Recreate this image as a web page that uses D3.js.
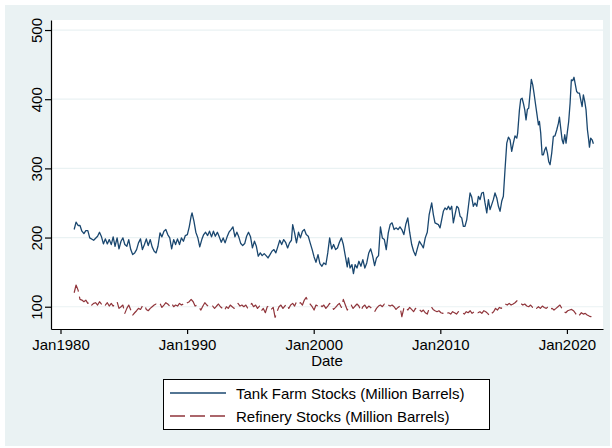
<!DOCTYPE html>
<html><head><meta charset="utf-8">
<script src="https://cdn.jsdelivr.net/npm/d3@7"></script>
<style>body{margin:0;background:#fff} text{font-family:"Liberation Sans",Arial,Helvetica,sans-serif}</style>
</head><body><svg id="c" width="612" height="448"></svg>
<script>
const xTickYears = [1980, 1990, 2000, 2010, 2020];
const yTicks = [100, 200, 300, 400, 500];
const seriesNames = ["Tank Farm Stocks (Million Barrels)", "Refinery Stocks (Million Barrels)"];
const xTitle = "Date";

const tankYears = [
1981.08,1981.23,1981.39,1981.54,1981.69,1981.85,1982.00,1982.16,1982.31,1982.62,1982.93,1983.08,1983.24,1983.39,1983.54,1983.70,1983.85,1984.01,1984.16,1984.31,1984.47,1984.62,1984.78,1984.93,
1985.08,1985.24,1985.39,1985.55,1985.70,1985.86,1986.01,1986.16,1986.32,1986.47,1986.63,1986.78,1986.93,1987.09,1987.24,1987.40,1987.55,1987.70,1987.86,1988.01,1988.17,1988.32,1988.47,1988.63,1988.78,1988.94,
1989.09,1989.24,1989.40,1989.55,1989.71,1989.86,1990.02,1990.17,1990.32,1990.39,1990.54,1990.69,1990.85,1991.00,1991.16,1991.31,1991.46,1991.62,1991.77,1991.93,1992.08,1992.23,1992.39,1992.54,1992.70,1992.85,
1993.00,1993.16,1993.31,1993.47,1993.62,1993.78,1993.93,1994.08,1994.24,1994.39,1994.55,1994.70,1994.85,1995.01,1995.16,1995.32,1995.47,1995.62,1995.78,1995.93,1996.09,1996.24,1996.39,1996.55,1996.70,1996.86,
1997.01,1997.16,1997.32,1997.47,1997.63,1997.78,1997.94,1998.09,1998.24,1998.34,1998.49,1998.64,1998.80,1998.95,1999.11,1999.26,1999.41,1999.57,1999.72,1999.88,2000.03,2000.18,2000.34,2000.49,2000.65,2000.80,2000.96,
2001.11,2001.26,2001.42,2001.57,2001.73,2001.88,2002.03,2002.19,2002.34,2002.50,2002.65,2002.74,2002.87,2003.02,2003.14,2003.27,2003.42,2003.57,2003.73,2003.88,2004.04,2004.19,2004.35,2004.50,2004.65,2004.81,2004.96,
2005.12,2005.27,2005.42,2005.58,2005.73,2005.89,2006.04,2006.19,2006.35,2006.50,2006.66,2006.81,2006.96,2007.12,2007.27,2007.43,2007.58,2007.74,2007.89,2008.04,2008.20,2008.35,2008.51,2008.66,2008.81,2008.97,2009.12,
2009.32,2009.45,2009.58,2009.85,2009.98,2010.11,2010.24,2010.37,2010.51,2010.64,2010.77,2010.90,2011.03,2011.16,2011.30,2011.43,2011.56,2011.69,2011.82,2011.95,2012.09,2012.22,2012.35,2012.48,2012.61,2012.74,2012.88,
2013.01,2013.14,2013.27,2013.40,2013.53,2013.67,2013.80,2013.93,2014.06,2014.19,2014.32,2014.46,2014.59,2014.72,2014.85,2014.98,2015.11,2015.25,2015.38,2015.51,2015.64,2015.77,2015.90,2016.04,2016.11,2016.25,2016.35,2016.46,2016.56,2016.67,2016.77,2016.88,2016.98,
2017.09,2017.19,2017.30,2017.40,2017.51,2017.62,2017.75,2017.83,2017.93,2018.04,2018.14,2018.25,2018.35,2018.46,2018.56,2018.67,2018.80,2018.93,2019.06,2019.20,2019.33,2019.41,2019.51,2019.62,2019.72,2019.83,2019.93,
2020.04,2020.14,2020.25,2020.35,2020.46,2020.56,2020.67,2020.77,2020.88,2020.99,2021.09,2021.20,2021.30,2021.41,2021.51,2021.62,2021.72,2021.78,2021.88,2021.99,2022.09
];
const tankValues = [
211.6,222.2,217.4,217.4,209.2,205.8,210.1,210.1,199.5,196.1,201.9,207.7,201.0,190.8,198.1,190.8,197.1,189.9,201.0,187.4,199.5,183.6,194.7,199.5,
189.9,187.4,197.1,182.6,175.4,177.8,182.6,192.3,198.1,182.6,189.9,198.1,188.4,197.1,186.5,180.2,177.8,187.4,206.8,201.0,209.2,211.6,204.3,199.5,183.6,197.1,
189.9,198.1,189.9,199.5,194.7,202.9,204.3,215.5,230.9,235.7,223.7,207.7,199.5,186.5,197.1,204.3,207.7,202.9,209.2,201.0,209.2,201.9,207.7,201.0,193.2,199.5,
192.3,201.0,207.7,211.6,215.5,201.0,207.7,201.0,191.3,188.4,191.3,201.9,207.7,201.0,185.0,194.7,187.4,173.0,177.8,173.9,176.8,173.9,170.5,175.4,180.2,182.6,
177.8,186.5,196.1,189.9,197.1,193.2,185.0,192.3,196.1,218.8,206.8,192.3,207.7,199.5,209.2,211.6,204.3,201.9,192.3,182.6,172.0,164.3,175.4,162.3,158.5,163.3,160.9,
177.8,199.5,183.6,189.9,182.6,185.0,193.2,199.5,189.9,173.0,157.5,170.5,156.0,160.9,147.8,160.9,156.0,165.7,158.5,168.1,156.0,163.3,177.8,183.6,173.9,159.4,170.5,
173.9,215.5,199.5,197.1,182.6,206.8,218.8,221.3,211.6,214.0,211.6,215.5,211.6,204.3,218.8,228.5,207.7,189.9,180.2,173.9,185.0,194.7,189.9,185.0,199.5,207.7,233.3,
250.0,233.2,221.1,218.7,213.9,225.9,237.9,242.8,240.4,245.2,240.4,245.2,221.1,233.2,245.2,242.8,230.8,228.4,216.3,216.3,226.0,245.2,264.4,258.6,245.2,250.0,245.2,
259.6,254.8,264.4,265.4,250.0,235.6,254.8,240.4,247.6,254.8,264.4,257.2,245.2,238.0,252.4,259.6,298.1,336.5,345.2,341.3,324.5,336.5,347.1,343.7,351.0,384.6,400.0,401.4,394.2,384.6,370.2,385.6,387.0,
408.7,428.8,420.7,408.7,394.2,379.8,363.0,367.8,351.0,319.7,319.7,326.9,330.8,322.1,310.1,305.3,322.1,346.2,347.1,355.8,365.4,374.0,358.2,341.3,335.6,348.6,336.5,
353.4,367.8,394.2,427.9,426.9,431.7,420.7,411.1,408.7,408.7,399.0,389.4,406.3,396.6,384.6,355.8,341.3,330.8,343.7,341.3,335.6
];

const refYears = [
1981.08,1981.23,1981.39,1981.54,1981.69,1981.85,1982.00,1982.16,1982.31,1982.47,1982.62,1982.77,1982.93,
1983.08,1983.24,1983.39,1983.54,1983.70,1983.85,1984.01,1984.16,1984.31,1984.47,1984.62,1984.78,1984.93,
1985.08,1985.24,1985.39,1985.55,1985.70,1985.86,1986.01,1986.16,1986.32,1986.47,1986.63,1986.78,1986.93,
1987.09,1987.24,1987.40,1987.55,1987.70,1987.86,1988.01,1988.17,1988.32,1988.47,1988.63,1988.78,1988.94,
1989.09,1989.25,1989.40,1989.55,1989.71,1989.86,1990.02,1990.17,1990.32,1990.48,1990.63,1990.79,1990.94,
1991.09,1991.25,1991.40,1991.56,1991.71,1991.86,1992.02,1992.17,1992.33,1992.48,1992.63,1992.79,1992.94,
1993.10,1993.25,1993.41,1993.56,1993.71,1993.87,1994.02,1994.18,1994.33,1994.48,1994.64,1994.79,1994.95,
1995.10,1995.25,1995.41,1995.56,1995.72,1995.87,1996.02,1996.18,1996.33,1996.49,1996.64,1996.80,1996.95,
1997.10,1997.26,1997.41,1997.57,1997.72,1997.87,1998.03,1998.18,1998.34,1998.49,1998.64,1998.80,1998.95,
1999.11,1999.26,1999.41,1999.57,1999.72,1999.88,2000.03,2000.18,2000.34,2000.49,2000.65,2000.80,2000.96,
2001.11,2001.26,2001.42,2001.57,2001.73,2001.88,2002.03,2002.19,2002.34,2002.50,2002.65,2002.80,2002.96,
2003.11,2003.27,2003.42,2003.57,2003.73,2003.88,2004.04,2004.19,2004.35,2004.50,2004.65,2004.81,2004.96,
2005.12,2005.27,2005.42,2005.58,2005.73,2005.89,2006.04,2006.19,2006.35,2006.50,2006.66,2006.81,2006.96,
2007.12,2007.27,2007.43,2007.58,2007.73,2007.89,2008.04,2008.20,2008.35,2008.51,2008.66,2008.81,2008.97,
2009.12,2009.28,2009.43,2009.58,2009.74,2009.89,2010.05,2010.20,2010.35,2010.51,2010.66,2010.82,2010.97,
2011.12,2011.28,2011.43,2011.59,2011.74,2011.90,2012.05,2012.20,2012.36,2012.51,2012.67,2012.82,2012.97,
2013.13,2013.28,2013.44,2013.59,2013.74,2013.90,2014.05,2014.21,2014.36,2014.51,2014.67,2014.82,2014.98,
2015.13,2015.29,2015.44,2015.59,2015.75,2015.90,2016.06,2016.21,2016.36,2016.52,2016.67,2016.83,2016.98,
2017.13,2017.29,2017.44,2017.60,2017.75,2017.90,2018.06,2018.21,2018.37,2018.52,2018.67,2018.83,2018.98,
2019.14,2019.29,2019.45,2019.60,2019.75,2019.91,2020.06,2020.22,2020.37,2020.52,2020.68,2020.83,2020.99,
2021.14,2021.29,2021.45,2021.60,2021.76,2021.91,2022.06
];
const refValues = [
120.2,131.4,124.0,110.6,109.6,107.2,109.6,104.8,107.2,102.4,104.8,105.8,102.4,
107.2,103.9,105.8,102.4,105.8,101.0,104.8,101.0,104.8,107.2,97.6,100.0,102.4,
90.4,97.6,102.4,95.2,88.0,91.3,94.2,97.6,96.1,101.0,102.4,96.1,94.2,
97.6,100.0,102.4,103.9,102.4,104.8,99.0,102.4,105.8,103.9,101.0,104.8,100.0,
102.4,101.0,104.8,102.4,103.9,102.4,105.8,107.2,110.6,107.2,101.0,102.4,99.0,
95.2,101.0,105.8,102.4,100.0,99.0,101.0,97.6,101.0,103.9,100.0,97.6,94.2,
100.0,97.6,102.4,100.0,97.6,102.4,104.8,101.0,102.4,100.0,102.4,97.6,101.0,
104.8,100.0,102.4,97.6,101.0,94.2,97.6,91.3,100.0,101.0,96.1,99.0,84.6,
92.8,100.0,102.4,97.6,101.0,103.9,97.6,102.4,104.8,101.0,107.2,103.9,105.8,
102.4,109.6,113.5,107.2,103.9,100.0,95.2,102.4,101.0,103.9,100.0,102.4,97.6,
101.0,104.8,101.0,96.1,99.0,102.4,104.8,99.0,110.6,102.4,95.2,99.0,102.4,
97.6,101.0,103.9,101.0,94.2,100.0,102.4,97.6,101.0,99.0,95.2,92.8,97.6,
101.0,102.4,100.0,103.9,101.0,102.4,101.0,102.4,100.0,96.1,99.0,101.0,85.5,
97.6,100.0,95.2,99.0,96.1,92.8,97.6,94.2,96.1,92.8,95.2,91.3,89.4,
97.6,100.0,96.1,94.2,92.8,94.2,91.3,90.4,92.8,90.4,91.3,89.4,92.8,
91.3,89.4,92.8,90.4,91.3,89.4,92.8,91.3,94.2,90.4,92.8,94.2,91.3,
92.8,90.4,94.2,92.8,90.4,86.5,90.4,92.8,97.6,95.2,99.0,97.6,101.0,
103.9,102.4,104.8,102.4,103.9,105.8,108.7,105.8,104.8,102.4,103.9,101.0,100.0,
102.4,99.0,101.0,97.6,100.0,97.6,101.0,99.0,97.6,100.0,96.1,97.6,95.2,
97.6,100.0,102.4,97.6,92.8,91.3,94.2,95.2,96.1,94.2,90.4,85.5,88.0,
91.3,89.4,90.4,88.0,86.5,85.5,83.1
];

const plot = {left: 51, right: 603, top: 20, bottom: 329};
const svg = d3.select("#c");

svg.append("rect").attr("x", 5).attr("y", 5).attr("width", 605).attr("height", 441).attr("fill", "#eaf2f3");
svg.append("rect").attr("x", plot.left).attr("y", plot.top).attr("width", plot.right - plot.left).attr("height", plot.bottom - plot.top).attr("fill", "#ffffff");

const x = d3.scaleLinear().domain([1979.25, 2022.85]).range([plot.left, plot.right]);
const y = d3.scaleLinear().domain([67.8, 514.5]).range([plot.bottom, plot.top]);

svg.append("g").selectAll("line").data(yTicks).join("line")
  .attr("x1", plot.left).attr("x2", plot.right)
  .attr("y1", d => y(d)).attr("y2", d => y(d))
  .attr("stroke", "#eaf2f3").attr("stroke-width", 1.2);

const line = d3.line().x(d => x(d[0])).y(d => y(d[1]));
const tank = tankYears.map((t, i) => [t, tankValues[i]]);
const ref = refYears.map((t, i) => [t, refValues[i]]);

svg.append("path").datum(tank).attr("d", line).attr("fill", "none")
  .attr("stroke", "#1a476f").attr("stroke-width", 1.3).attr("stroke-linejoin", "round");
svg.append("path").datum(ref).attr("d", line).attr("fill", "none")
  .attr("stroke", "#90353b").attr("stroke-width", 1.2).attr("stroke-linejoin", "round")
  .attr("stroke-dasharray", "15,5");

const yAxis = svg.append("g").attr("transform", `translate(${plot.left},0)`)
  .call(d3.axisLeft(y).tickValues(yTicks).tickSize(6).tickSizeOuter(0));
yAxis.select(".domain").attr("stroke", "#000").attr("stroke-width", 1.2);
yAxis.selectAll(".tick line").attr("stroke", "#000").attr("stroke-width", 1.2);
yAxis.selectAll(".tick text").attr("x", 0).attr("y", -9).attr("dy", 0)
  .attr("text-anchor", "middle").attr("transform", "rotate(-90)")
  .attr("font-size", 15).attr("fill", "#000").style("font-family", "'Liberation Sans', Arial, sans-serif");

const xAxis = svg.append("g").attr("transform", `translate(0,${plot.bottom})`)
  .call(d3.axisBottom(x).tickValues(xTickYears).tickFormat(d => "Jan" + d).tickSize(5).tickSizeOuter(0));
xAxis.select(".domain").attr("stroke", "#000").attr("stroke-width", 1.2);
xAxis.selectAll(".tick line").attr("stroke", "#000").attr("stroke-width", 1.2);
xAxis.selectAll(".tick text").attr("y", 21).attr("dy", 0)
  .attr("font-size", 15).attr("fill", "#000").style("font-family", "'Liberation Sans', Arial, sans-serif");

svg.append("text").attr("x", (plot.left + plot.right) / 2).attr("y", 366)
  .attr("text-anchor", "middle").attr("font-size", 15).attr("fill", "#000").text(xTitle);

const lg = svg.append("g");
lg.append("rect").attr("x", 163.5).attr("y", 379.5).attr("width", 326).attr("height", 50)
  .attr("fill", "#fff").attr("stroke", "#000").attr("stroke-width", 1);
const rows = [
  {name: seriesNames[0], color: "#1a476f", dash: null, yy: 393},
  {name: seriesNames[1], color: "#90353b", dash: "15,5", yy: 416}
];
rows.forEach(r => {
  lg.append("line").attr("x1", 170).attr("x2", 226).attr("y1", r.yy).attr("y2", r.yy)
    .attr("stroke", r.color).attr("stroke-width", 1.3).attr("stroke-dasharray", r.dash);
  lg.append("text").attr("x", 236).attr("y", r.yy + 5.5).attr("font-size", 15).attr("fill", "#000").text(r.name);
});
</script></body></html>
